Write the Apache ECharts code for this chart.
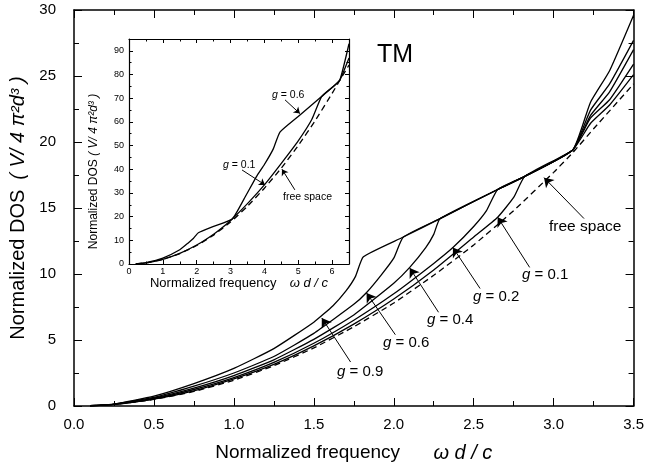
<!DOCTYPE html>
<html>
<head>
<meta charset="utf-8">
<script src="https://cdn.jsdelivr.net/npm/echarts@6/dist/echarts.min.js"></script>
<style>
  html, body { margin: 0; padding: 0; background: #fff; }
  #main { width: 647px; height: 472px; }
</style>
</head>
<body>
<div id="main"></div>
<script>
// main plot: DOS vs normalized frequency, TM
var freeX = [0.1, 0.25, 0.5, 0.75, 1.0, 1.25, 1.5, 1.75, 2.0, 2.25, 2.5, 2.75, 3.0, 3.12, 3.25, 3.5];
var freeY = [0.02, 0.12, 0.5, 1.1, 1.95, 3.05, 4.4, 6.0, 7.8, 9.9, 12.2, 14.8, 17.7, 19.2, 21.0, 24.4];

var g09X = [0.1, 0.25, 0.5, 0.75, 1.0, 1.25, 1.5, 1.62, 1.7, 1.76, 1.81, 2.06, 2.29, 2.65, 2.82, 3.12, 3.23, 3.35, 3.5];
var g09Y = [0.02, 0.15, 0.75, 1.7, 2.85, 4.35, 6.35, 7.6, 8.7, 9.8, 11.3, 12.8, 14.2, 16.4, 17.4, 19.4, 23.0, 25.4, 29.6];

var g06X = [0.1, 0.25, 0.5, 0.75, 1.0, 1.25, 1.5, 1.75, 1.83, 1.92, 2.0, 2.06, 2.29, 2.65, 2.82, 3.12, 3.23, 3.35, 3.5];
var g06Y = [0.02, 0.14, 0.65, 1.5, 2.5, 3.75, 5.5, 7.7, 8.6, 9.9, 11.2, 12.8, 14.2, 16.4, 17.4, 19.4, 22.4, 24.4, 27.7];

var g04X = [0.1, 0.25, 0.5, 0.75, 1.0, 1.25, 1.5, 1.75, 2.0, 2.1, 2.2, 2.25, 2.29, 2.65, 2.82, 3.12, 3.23, 3.35, 3.5];
var g04Y = [0.02, 0.13, 0.6, 1.35, 2.3, 3.5, 5.05, 6.9, 9.3, 10.5, 12.0, 13.0, 14.2, 16.4, 17.4, 19.4, 22.0, 23.8, 27.0];

var g02X = [0.1, 0.25, 0.5, 0.75, 1.0, 1.25, 1.5, 1.75, 2.0, 2.25, 2.37, 2.5, 2.58, 2.65, 2.82, 3.12, 3.23, 3.35, 3.5];
var g02Y = [0.02, 0.12, 0.55, 1.25, 2.15, 3.3, 4.75, 6.5, 8.5, 10.8, 12.0, 13.6, 14.8, 16.4, 17.4, 19.4, 21.8, 23.2, 25.9];

var g01X = [0.1, 0.25, 0.5, 0.75, 1.0, 1.25, 1.5, 1.75, 2.0, 2.25, 2.5, 2.65, 2.75, 2.82, 3.12, 3.23, 3.35, 3.5];
var g01Y = [0.02, 0.12, 0.52, 1.15, 2.05, 3.15, 4.55, 6.2, 8.1, 10.3, 12.8, 14.3, 15.8, 17.4, 19.4, 21.4, 22.8, 25.1];

// inset: wider frequency range
var inFreeX = [0.2, 0.5, 1.0, 1.5, 2.0, 2.5, 3.0, 3.5, 4.0, 4.5, 5.0, 5.5, 6.0, 6.23, 6.5];
var inFreeY = [0.08, 0.5, 1.95, 4.4, 7.8, 12.2, 17.7, 24.4, 32, 40.5, 50, 60.5, 72, 77.6, 84];

var inG01X = [0.2, 0.5, 1.0, 1.5, 2.0, 2.5, 2.85, 3.05, 3.5, 4.0, 4.5, 5.0, 5.4, 5.69, 6.0, 6.23, 6.5];
var inG01Y = [0.08, 0.5, 2.0, 4.5, 8.0, 12.6, 16.5, 19.0, 25.5, 33.4, 42.5, 52, 61, 70.7, 74.5, 77.7, 87];

var inG06X = [0.2, 0.5, 1.0, 1.5, 1.75, 1.9, 2.05, 2.5, 3.05, 3.4, 3.77, 4.0, 4.26, 4.46, 5.0, 5.69, 6.0, 6.23, 6.5];
var inG06Y = [0.08, 0.6, 2.5, 6.0, 8.9, 10.8, 13.2, 15.9, 19.0, 27.5, 37.0, 42, 48.5, 55.7, 62.3, 70.7, 74.5, 77.7, 93];

// arrows [fromX, fromY, toX, toY] in data units
var mainArrows = [
  [3.19, 14.2, 2.94, 17.3],  // free space
  [2.85, 10.5, 2.65, 14.3],  // g=0.1
  [2.54, 8.9, 2.37, 12.0],   // g=0.2
  [2.28, 7.1, 2.10, 10.45],  // g=0.4
  [2.01, 5.4, 1.83, 8.56],   // g=0.6
  [1.73, 3.33, 1.55, 6.67]   // g=0.9
];
var insetArrows = [
  [4.61, 69.3, 5.05, 63.5],  // g=0.6
  [3.34, 39.7, 4.02, 33.4],  // g=0.1
  [4.90, 31.3, 4.52, 40.0]   // free space
];

var FONT = '"Liberation Sans", Arial, Helvetica, sans-serif';

function pairs(xs, ys) {
  var out = [];
  for (var i = 0; i < xs.length; i++) out.push([xs[i], ys[i]]);
  return out;
}

function arrowLines(list, size) {
  return list.map(function (a) {
    return [{ coord: [a[0], a[1]], symbol: 'none' }, { coord: [a[2], a[3]], symbol: 'arrow', symbolSize: size }];
  });
}

function lineSeries(name, xs, ys, xi, yi, dashed, arrows, arrowSize) {
  var s = {
    name: name,
    type: 'line',
    xAxisIndex: xi,
    yAxisIndex: yi,
    data: pairs(xs, ys),
    showSymbol: false,
    smooth: 0.15,
    lineStyle: { color: '#000', width: 1.3, type: dashed ? [6, 4] : 'solid' },
    z: 3
  };
  if (arrows) {
    s.markLine = {
      silent: true,
      label: { show: false },
      lineStyle: { color: '#000', width: 1, type: 'solid' },
      data: arrowLines(arrows, arrowSize)
    };
  }
  return s;
}

function xAx(grid, pos, min, max, interval, opts) {
  var big = grid === 0;
  var a = {
    type: 'value', gridIndex: grid, position: pos, min: min, max: max, interval: interval,
    axisLine: { show: true, onZero: false, lineStyle: { color: '#000', width: big ? 1.5 : 1.2 } },
    axisTick: { show: true, inside: true, length: big ? 8 : 4, lineStyle: { color: '#000', width: 1 } },
    minorTick: { show: true, splitNumber: 2, length: big ? 5 : 2.5, lineStyle: { color: '#000', width: 1 } },
    splitLine: { show: false },
    axisLabel: { show: false }
  };
  return Object.assign(a, opts || {});
}

var labelMain = { show: true, color: '#000', fontFamily: FONT, fontSize: 15 };
var labelInset = { show: true, color: '#000', fontFamily: FONT, fontSize: 9 };

function gText(x, yc, txt, size, gItalic) {
  var t = gItalic ? '{i|g}' + txt.slice(1) : txt;
  return {
    type: 'text', x: x, y: yc, z: 10,
    style: {
      text: t, fontFamily: FONT, fontSize: size, fill: '#000', verticalAlign: 'middle',
      rich: { i: { fontFamily: FONT, fontSize: size, fontStyle: 'italic', fill: '#000' } }
    }
  };
}

var option = {
  animation: false,
  backgroundColor: '#fff',
  grid: [
    { left: 74, right: 10, top: 10, bottom: 66, show: false },
    { left: 129, width: 220, top: 39, height: 225, show: false }
  ],
  xAxis: [
    xAx(0, 'bottom', 0, 3.5, 0.5, {
      axisLabel: Object.assign({}, labelMain, { margin: 11, formatter: function (v) { return v.toFixed(1); } }),
      name: '{a|Normalized frequency}          {b|ω d / c}',
      nameLocation: 'middle',
      nameGap: 37,
      nameTextStyle: {
        color: '#000',
        rich: {
          a: { fontFamily: FONT, fontSize: 19, color: '#000' },
          b: { fontFamily: FONT, fontSize: 20, fontStyle: 'italic', color: '#000' }
        }
      }
    }),
    xAx(0, 'top', 0, 3.5, 0.5),
    xAx(1, 'bottom', 0, 6.5, 1, {
      axisLabel: Object.assign({}, labelInset, { margin: 3, formatter: function (v) { return v % 1 === 0 ? String(v) : ''; } }),
      name: '{a|Normalized frequency}    {b|ω d / c}',
      nameLocation: 'middle',
      nameGap: 11,
      nameTextStyle: {
        color: '#000',
        rich: {
          a: { fontFamily: FONT, fontSize: 13, color: '#000' },
          b: { fontFamily: FONT, fontSize: 13, fontStyle: 'italic', color: '#000' }
        }
      }
    }),
    xAx(1, 'top', 0, 6.5, 1)
  ],
  yAxis: [
    xAx(0, 'left', 0, 30, 5, {
      axisLabel: Object.assign({}, labelMain, { margin: 18 }),
      name: '{a|Normalized DOS}   {b|( V/ 4 π²d³ )}',
      nameLocation: 'middle',
      nameGap: 46,
      nameTextStyle: {
        color: '#000',
        rich: {
          a: { fontFamily: FONT, fontSize: 20, color: '#000' },
          b: { fontFamily: FONT, fontSize: 20, fontStyle: 'italic', color: '#000' }
        }
      }
    }),
    xAx(0, 'right', 0, 30, 5),
    xAx(1, 'left', 0, 95, 10, {
      axisLabel: Object.assign({}, labelInset, { margin: 5, formatter: function (v) { return v % 10 === 0 ? String(v) : ''; } }),
      name: '{a|Normalized DOS} {b|( V/ 4 π²d³ )}',
      nameLocation: 'middle',
      nameGap: 29,
      nameTextStyle: {
        color: '#000',
        padding: [0, 40, 0, 0],
        rich: {
          a: { fontFamily: FONT, fontSize: 12, color: '#000' },
          b: { fontFamily: FONT, fontSize: 12, fontStyle: 'italic', color: '#000' }
        }
      }
    }),
    xAx(1, 'right', 0, 95, 10)
  ],
  series: [
    lineSeries('free space', freeX, freeY, 0, 0, true, mainArrows, 9),
    lineSeries('g=0.9', g09X, g09Y, 0, 0, false),
    lineSeries('g=0.6', g06X, g06Y, 0, 0, false),
    lineSeries('g=0.4', g04X, g04Y, 0, 0, false),
    lineSeries('g=0.2', g02X, g02Y, 0, 0, false),
    lineSeries('g=0.1', g01X, g01Y, 0, 0, false),
    lineSeries('inset free space', inFreeX, inFreeY, 2, 2, true, insetArrows, 6),
    lineSeries('inset g=0.1', inG01X, inG01Y, 2, 2, false),
    lineSeries('inset g=0.6', inG06X, inG06Y, 2, 2, false)
  ],
  graphic: [
    { type: 'text', left: 377, top: 43, style: { text: 'TM', fontFamily: FONT, fontSize: 25, fill: '#000' } },
    gText(549, 227, 'free space', 15.5, false),
    gText(522, 275, 'g = 0.1', 15, true),
    gText(473, 297, 'g = 0.2', 15, true),
    gText(427, 320, 'g = 0.4', 15, true),
    gText(383, 343, 'g = 0.6', 15, true),
    gText(337, 372, 'g = 0.9', 15, true),
    gText(272, 95, 'g = 0.6', 10.5, true),
    gText(223, 165, 'g = 0.1', 10.5, true),
    gText(283, 197, 'free space', 10.5, false)
  ]
};

var chart = echarts.init(document.getElementById('main'), null, { renderer: 'canvas' });
chart.setOption(option);
</script>
</body>
</html>
